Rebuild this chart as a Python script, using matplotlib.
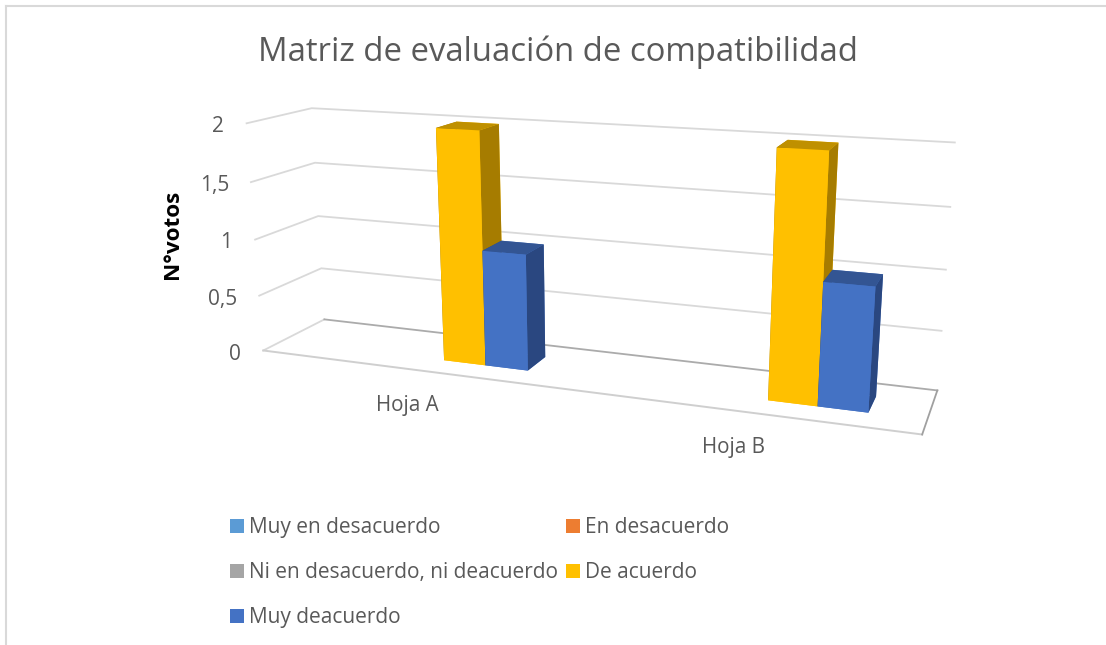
import numpy as np
import matplotlib
matplotlib.use("Agg")
import matplotlib.pyplot as plt
from matplotlib.lines import Line2D
from matplotlib.patches import Patch

# ---- data ----
categories = ["Hoja A", "Hoja B"]
series_names = ["Muy en desacuerdo", "En desacuerdo",
                "Ni en desacuerdo, ni deacuerdo", "De acuerdo", "Muy deacuerdo"]
muy_en_desacuerdo = [0, 0]
en_desacuerdo = [0, 0]
ni_ni = [0, 0]
de_acuerdo = [2, 2]
muy_deacuerdo = [1, 1]
series_values = [muy_en_desacuerdo, en_desacuerdo, ni_ni, de_acuerdo, muy_deacuerdo]
value_ticks = [0, 0.5, 1, 1.5, 2]
value_tick_labels = ["0", "0,5", "1", "1,5", "2"]
title = "Matriz de evaluación de compatibilidad"
y_label = "N°votos"

# ---- styles ----
front_colors = ["#5B9BD5", "#ED7D31", "#A5A5A5", "#FFC000", "#4472C4"]
top_colors = ["#44749F", "#B25E25", "#7C7C7C", "#BF9000", "#335593"]
side_colors = ["#3D6A8F", "#9E5321", "#6E6E6E", "#A67C00", "#2A4780"]
FONT = "Open Sans"
W, H = 1106, 645
plt.rcParams["font.family"] = [FONT, "DejaVu Sans"]

fig = plt.figure(figsize=(W / 100, H / 100), dpi=100, facecolor="white")
ax = fig.add_axes([0, 0, 1, 1], projection="3d", computed_zorder=False)
ax.set_axis_off()
ax.patch.set_visible(False)
ax.apply_aspect = lambda position=None: None

# ---- camera: calibrated on the corners of the chart box (x: categories, y: depth, z: votes) ----
calib_world = np.array([
    (0, 0, 0), (0, 0, .5), (0, 0, 1), (0, 0, 1.5), (0, 0, 2),
    (0, 1, 0), (0, 1, .5), (0, 1, 1), (0, 1, 1.5), (0, 1, 2),
    (2, 1, 0), (2, 1, .5), (2, 1, 1), (2, 1, 1.5), (2, 1, 2),
    (2, 0, 0)], float)
calib_px = np.array([
    (263.3, 350.3), (259.3, 296), (255, 240), (250.7, 182), (246.7, 123.3),
    (324.3, 319.3), (321.7, 268.3), (317.7, 215.7), (315, 162.7), (312, 108.3),
    (937.3, 390.7), (941.7, 331), (945.7, 270), (950, 206.7), (955, 142.3),
    (922.3, 434)], float)
rows = []
for (X, Y, Z), (u, v) in zip(calib_world, calib_px / 1000):
    rows.append([X, Y, Z, 1, 0, 0, 0, 0, -u * X, -u * Y, -u * Z, -u])
    rows.append([0, 0, 0, 0, X, Y, Z, 1, -v * X, -v * Y, -v * Z, -v])
P = np.linalg.svd(np.array(rows))[2][-1].reshape(3, 4)
P = np.diag([1000, 1000, 1]) @ P
P = P / (P[2] @ np.array([1, .5, 1, 1]))
to_display = np.array([[1, 0, 0], [0, -1, H], [0, 0, 1]], float)
Q = np.linalg.inv(ax.transData.get_matrix()) @ to_display @ P
M = np.array([Q[0], Q[1], [0, 0, 0, -1], Q[2]])
ax.get_proj = lambda: M

# ---- chart box ----
GRID = "#D9D9D9"
for v in value_ticks[1:]:
    ax.plot([0, 0, 2], [0, 1, 1], [v, v, v], color=GRID, lw=1.3, zorder=1)
ax.plot([0, 0], [0, 1], [0, 0], color=GRID, lw=1.3, zorder=1)
ax.plot([0, 2], [0, 0], [0, 0], color="#CFCFCF", lw=1.4, zorder=1)
ax.plot([0, 2], [1, 1], [0, 0], color="#ABABAB", lw=1.3, zorder=1)
ax.plot([2, 2], [0, 1], [0, 0], color="#A0A0A0", lw=1.3, zorder=1)

# ---- bars ----
gap = 2.25
n_series = len(series_values)
bar_w = 1 / (n_series + gap)
depth_lo, depth_hi = 0.31, 0.69
order = 2
for c in range(len(categories)):
    for s, values in enumerate(series_values):
        if values[c] == 0:
            continue
        left = c + (gap / 2 + s) * bar_w
        faces = [front_colors[s], top_colors[s], front_colors[s],
                 front_colors[s], side_colors[s], side_colors[s]]
        ax.bar3d(left, depth_lo, 0, bar_w, depth_hi - depth_lo, values[c],
                 color=faces, shade=False, linewidth=0, zorder=order)
        order += 1

# ---- text ----
def px(x, y):
    return x / W, 1 - y / H

TXT = "#595959"
fig.text(*px(558, 52), title, ha="center", va="center", fontsize=23.65, color=TXT)
fig.text(*px(172, 234.5), y_label, ha="center", va="center", rotation=90,
         fontsize=16.2, fontweight="bold", color="black")
tick_right = [241, 237, 232, 229, 224]
tick_y = [354, 299, 243, 186, 126]
for lab, xr, yc in zip(value_tick_labels, tick_right, tick_y):
    fig.text(*px(xr, yc), lab, ha="right", va="center", fontsize=15, color=TXT)
cat_xy = [(407.5, 405), (734, 447.5)]
for lab, (xc, yc) in zip(categories, cat_xy):
    fig.text(*px(xc, yc), lab, ha="center", va="center", fontsize=14.9, color=TXT)

# ---- legend (2 columns, filled column-wise) ----
handles = [Patch(facecolor=c, edgecolor="none", label=n) for c, n in zip(front_colors, series_names)]
idx = [0, 2, 4, 1, 3]
fig.legend([handles[i] for i in idx], [series_names[i] for i in idx], ncols=2,
           loc="upper left", bbox_to_anchor=px(230, 517), frameon=False, borderpad=0,
           borderaxespad=0, fontsize=15.05, labelcolor=TXT, handlelength=0.67, handleheight=0.67,
           handletextpad=0.25, columnspacing=0.38, labelspacing=1.16)

# ---- chart-area border ----
for xs, ys in [((5.5, W), (5.5, 5.5)), ((5.5, 5.5), (5.5, H))]:
    fig.add_artist(Line2D([x / W for x in xs], [1 - y / H for y in ys], color=GRID, lw=1.5))

fig.savefig("out.png", dpi=100)
